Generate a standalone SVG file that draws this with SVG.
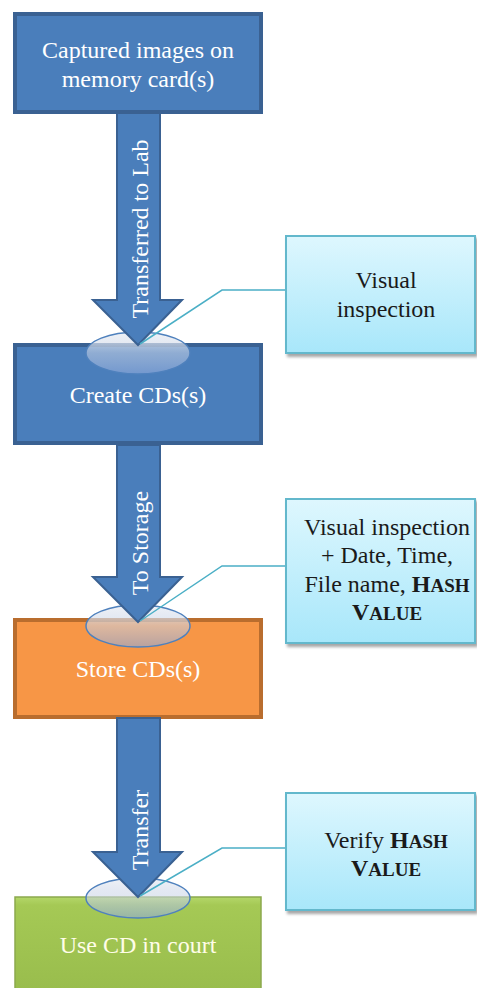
<svg xmlns="http://www.w3.org/2000/svg" width="477" height="988" viewBox="0 0 477 988">
<defs>
<style>
.bluebox{fill:#4A7EBB;stroke:#3A6192;stroke-width:4}
.orangebox{fill:#F79646;stroke:#B96D2E;stroke-width:4}
.greenbox{fill:url(#gGreen);stroke:#8CA94E;stroke-width:1.5}
.callout{fill:url(#gCallout);stroke:#63B8CC;stroke-width:2;filter:url(#shadow)}
.arrow{fill:#4A7EBB;stroke:#3A6192;stroke-width:2;stroke-linejoin:miter}
.disc{fill:url(#gDisc);stroke:#4F81BD;stroke-width:1.5}
.lead{fill:none;stroke:#4BAFC6;stroke-width:1.5}
</style>
<linearGradient id="gGreen" x1="0" y1="0" x2="0" y2="1">
<stop offset="0" stop-color="#B4D76A"/>
<stop offset="0.08" stop-color="#A5C955"/>
<stop offset="1" stop-color="#98BC4C"/>
</linearGradient>
<linearGradient id="gCallout" x1="0" y1="0" x2="0" y2="1">
<stop offset="0" stop-color="#DEF7FE"/>
<stop offset="1" stop-color="#A8E7FA"/>
</linearGradient>
<linearGradient id="gDisc" x1="0" y1="0" x2="0" y2="1">
<stop offset="0" stop-color="#EEF1F6" stop-opacity="0.9"/>
<stop offset="0.5" stop-color="#C9D3E6" stop-opacity="0.55"/>
<stop offset="1" stop-color="#8EA9DB" stop-opacity="0.6"/>
</linearGradient>
<filter id="shadow" x="-10%" y="-10%" width="125%" height="125%">
<feDropShadow dx="2" dy="3" stdDeviation="1.5" flood-color="#000000" flood-opacity="0.35"/>
</filter>
</defs>

<g id="node-captured">
<rect class="bluebox" x="15" y="14" width="246" height="98"/>
<text x="138" y="58" font-family="Liberation Serif" font-size="24" fill="#FFFFFF" text-anchor="middle">Captured images on</text>
<text x="138" y="87" font-family="Liberation Serif" font-size="24" fill="#FFFFFF" text-anchor="middle">memory card(s)</text>
</g>

<g id="node-create">
<rect class="bluebox" x="15" y="345" width="246" height="98"/>
<text x="138" y="403" font-family="Liberation Serif" font-size="24" fill="#FFFFFF" text-anchor="middle">Create CDs(s)</text>
</g>

<g id="node-store">
<rect class="orangebox" x="15" y="620" width="246" height="97"/>
<text x="138" y="677" font-family="Liberation Serif" font-size="24" fill="#FFFFFF" text-anchor="middle">Store CDs(s)</text>
</g>

<g id="node-court">
<rect class="greenbox" x="15" y="897" width="246" height="100"/>
<text x="138" y="953" font-family="Liberation Serif" font-size="24" fill="#FFFDE8" text-anchor="middle">Use CD in court</text>
</g>

<g id="connectors">
<ellipse class="disc" cx="138" cy="353" rx="52" ry="21"/>
<ellipse class="disc" cx="138" cy="626" rx="52" ry="21"/>
<ellipse class="disc" cx="138" cy="898" rx="52" ry="20"/>
<polygon class="arrow" points="117,113 160,113 160,300 182,300 138,345 93,300 117,300"/>
<polygon class="arrow" points="117,445 160,445 160,577 182,577 138,622 93,577 117,577"/>
<polygon class="arrow" points="117,718 160,718 160,852 182,852 138,897 93,852 117,852"/>
<text font-family="Liberation Serif" font-size="24" fill="#FFFFFF" text-anchor="middle" transform="translate(148,229) rotate(-90)">Transferred to Lab</text>
<text font-family="Liberation Serif" font-size="24" fill="#FFFFFF" text-anchor="middle" transform="translate(148,543) rotate(-90)">To Storage</text>
<text font-family="Liberation Serif" font-size="24" fill="#FFFFFF" text-anchor="middle" transform="translate(148,830) rotate(-90)">Transfer</text>
<polyline class="lead" points="286,290 222,290 140,344"/>
<polyline class="lead" points="286,566 222,566 140,621"/>
<polyline class="lead" points="286,848 222,848 140,896"/>
</g>

<g id="callout-visual">
<rect class="callout" x="286" y="236" width="189" height="117"/>
<text x="386" y="288" font-family="Liberation Serif" font-size="24" fill="#1A1A1A" text-anchor="middle">Visual</text>
<text x="386" y="317" font-family="Liberation Serif" font-size="24" fill="#1A1A1A" text-anchor="middle">inspection</text>
</g>

<g id="callout-hash">
<rect class="callout" x="286" y="499" width="189" height="144"/>
<text x="387" y="535" font-family="Liberation Serif" font-size="24" fill="#1A1A1A" text-anchor="middle">Visual inspection</text>
<text x="387" y="563" font-family="Liberation Serif" font-size="24" fill="#1A1A1A" text-anchor="middle">+ Date, Time,</text>
<text x="387" y="592" font-family="Liberation Serif" font-size="24" fill="#1A1A1A" text-anchor="middle">File name, <tspan font-weight="bold">H<tspan font-size="19">ASH</tspan></tspan></text>
<text x="387" y="620" font-family="Liberation Serif" font-size="24" fill="#1A1A1A" text-anchor="middle" font-weight="bold">V<tspan font-size="19">ALUE</tspan></text>
</g>

<g id="callout-verify">
<rect class="callout" x="286" y="793" width="189" height="117"/>
<text x="386" y="848" font-family="Liberation Serif" font-size="24" fill="#1A1A1A" text-anchor="middle">Verify <tspan font-weight="bold">H<tspan font-size="19">ASH</tspan></tspan></text>
<text x="386" y="876" font-family="Liberation Serif" font-size="24" fill="#1A1A1A" text-anchor="middle" font-weight="bold">V<tspan font-size="19">ALUE</tspan></text>
</g>
</svg>
